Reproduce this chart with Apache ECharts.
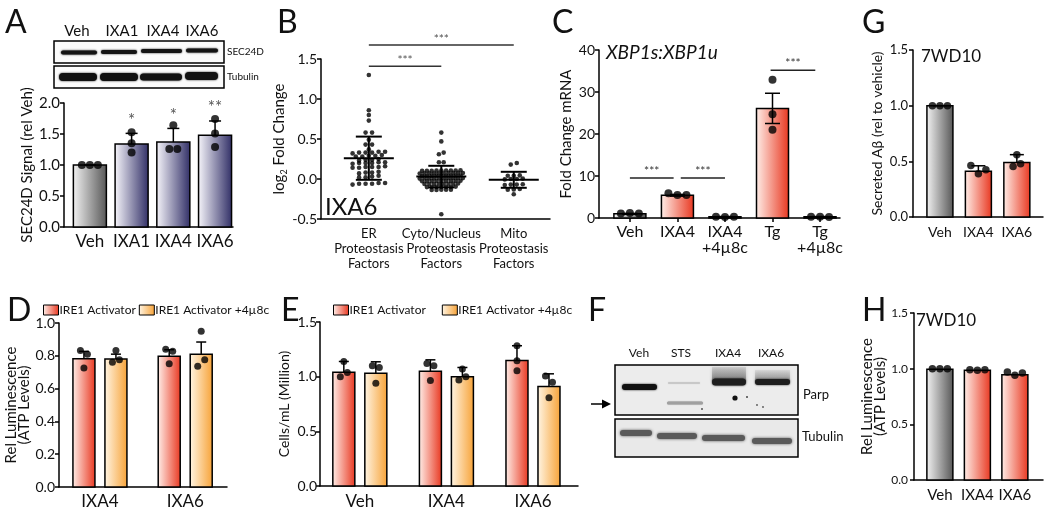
<!DOCTYPE html>
<html><head><meta charset="utf-8">
<script src="https://cdn.jsdelivr.net/npm/echarts@6/dist/echarts.min.js"></script>
<style>html,body{margin:0;padding:0;background:#fff}#c{width:1050px;height:514px}</style>
</head><body><div id="c"></div>
<script>
// ---------------- DATA ----------------
// Panel A
const catsA = ['Veh','IXA1','IXA4','IXA6'];
const meanA = [1.00, 1.34, 1.37, 1.48];
const sdTopA = [1.00, 1.51, 1.59, 1.71];
const ptsA = [[1.0,1.0,1.0],[1.53,1.35,1.20],[1.26,1.64,1.26],[1.74,1.51,1.29]];
const starsA = ['','*','*','**'];
const laneA = ['Veh','IXA1','IXA4','IXA6'];
// Panel B
const catsB = ['ER\nProteostasis\nFactors','Cyto/Nucleus\nProteostasis\nFactors','Mito\nProteostasis\nFactors'];
const erVals = [1.30,0.86,0.80,0.73,0.58,0.58,0.49,0.43,0.43,0.37,
  0.34,0.34,0.33,0.33,0.33,0.32, 0.30,0.29,0.29,0.28,0.28, 0.25,0.24,0.24,0.23,
  0.21,0.21,0.20,0.20,0.20,0.19, 0.16,0.15,0.15,0.15,0.14,0.14, 0.09,0.08,0.08,0.07,
  0.04,0.03,0.02,0.02, -0.05,-0.05,-0.06,-0.06,-0.06,-0.07];
const cytoVals = [0.58,0.47,0.33,0.31,0.21,0.21,
  0.108,0.106,0.105,0.104,0.103,0.107,0.105,0.102,0.106,
  0.074,0.073,0.072,0.071,0.070,0.075,0.073,0.069,0.071,0.072,
  0.042,0.041,0.040,0.039,0.038,0.043,0.040,0.037,0.041,
  0.010,0.009,0.008,0.007,0.006,0.011,0.008,0.005,0.009,0.007,
  -0.023,-0.024,-0.025,-0.026,-0.027,-0.022,-0.025,-0.028,-0.024,
  -0.058,-0.059,-0.060,-0.061,-0.062,-0.057,-0.060,-0.063,
  -0.096,-0.097,-0.098,-0.099,-0.100,-0.095,-0.101,
  -0.133,-0.134,-0.135,-0.136,-0.137, -0.44];
const mitoVals = [0.20,0.18, 0.045,0.040,0.040, 0.005,0.0,0.0,-0.005,
  -0.065,-0.07,-0.07,-0.075, -0.125,-0.13,-0.135, -0.19];
const meanB = [0.26, 0.03, -0.01];
const sdB = [0.27, 0.135, 0.10];
const sigB = [[0,1,1.41],[0,2,1.675]];
const sigBLabels = ['***','***'];
// Panel C
const catsC = ['Veh','IXA4','IXA4\n+4µ8c','Tg','Tg\n+4µ8c'];
const meanC = [1.0, 5.4, 0.3, 26.1, 0.3];
const semTopC = [1.1, 5.6, 0.35, 29.7, 0.35];
const semBotC = [0.9, 5.2, 0.25, 22.5, 0.25];
const ptsC = [[1.1,1.2,1.1],[5.9,5.5,5.5],[0.3,0.25,0.3],[32.9,24.7,21.0],[0.3,0.3,0.25]];
const sigC = [[0,0.92,9.5],[1.07,2,9.5],[2.96,3.9,35.2]];
const sigCLabels = ['***','***','***'];
// Panel G
const catsG = ['Veh','IXA4','IXA6'];
const meanG = [1.0, 0.41, 0.49];
const sdTopG = [1.0, 0.46, 0.56];
const ptsG = [[1.0,1.0,1.0],[0.463,0.388,0.424],[0.454,0.559,0.478]];
// Panel D
const catsD = ['IXA4','IXA6'];
const meanDAct = [0.782, 0.797], sdDAct = [0.827, 0.837];
const meanDInh = [0.780, 0.810], sdDInh = [0.810, 0.884];
const ptsDAct = [[0.833,0.726,0.810],[0.840,0.752,0.827]];
const ptsDInh = [[0.760,0.833,0.776],[0.736,0.949,0.776]];
// Panel E
const catsE = ['Veh','IXA4','IXA6'];
const meanEAct = [1.041, 1.050, 1.148], sdEAct = [1.139, 1.154, 1.283];
const meanEInh = [1.031, 1.000, 0.909], sdEInh = [1.136, 1.084, 1.026];
const ptsEAct = [[1.000,1.139,1.038],[1.120,0.964,1.100],[1.053,1.283,1.145]];
const ptsEInh = [[1.099,0.940,1.084],[0.970,1.070,1.000],[1.007,0.808,0.950]];
// Panel H
const catsH = ['Veh','IXA4','IXA6'];
const meanH = [0.995, 0.985, 0.945];
const ptsH = [[1.0,1.0,1.0],[0.99,0.985,0.99],[0.97,0.94,0.96]];
// Panel F
const laneF = ['Veh','STS','IXA4','IXA6'];
const legendNames = ['IRE1 Activator','IRE1 Activator +4µ8c'];

// ---------------- LAYOUT ----------------
const F = 'Lato, "Open Sans", sans-serif';
const chart = echarts.init(document.getElementById('c'));
const lg = (c0,c1)=> new echarts.graphic.LinearGradient(0,0,1,0,[{offset:0,color:c0},{offset:1,color:c1}]);
const GRAY = lg('#f4f4f4','#555555'), NAVY = lg('#f8f7fc','#302e66'),
      RED = lg('#fff0ea','#e8361f'), ORNG = lg('#fff6e6','#f7a236');

const panels = [
 {g:{left:64,top:103,width:169,height:124}, xr:[-0.62,3.43], cats:catsA, y:[0,2,0.5], name:'SEC24D Signal (rel Veh)', nameGap:26, nfs:15, tfs:15, xfs:17, dec:1, tm:4, xm:5},
 {g:{left:321,top:59,width:229,height:160}, xr:[-0.66,2.5], cats:catsB, y:[-0.5,1.5,0.5], name:'{t|log}{s|2}{t| Fold Change}', nameGap:24, nfs:15, tfs:14, xfs:13, xlh:15, noXLabel:true, dec:1, tm:4, xm:7,
   rich:{t:{fontSize:15,fontFamily:F,color:'#111',lineHeight:18},s:{fontSize:9,fontFamily:F,color:'#111',lineHeight:18,verticalAlign:'bottom'}}},
 {g:{left:599,top:50,width:241,height:168}, xr:[-0.65,4.42], cats:catsC, y:[0,40,10], name:'Fold Change mRNA', nameGap:24, nfs:15, tfs:14, xfs:16, xlh:16, dec:0, tm:4, xm:6, xtick:true},
 {g:{left:913,top:50,width:130,height:167}, xr:[-0.7,2.68], cats:catsG, y:[0,1.5,0.5], name:'Secreted Aβ (rel to vehicle)', nameGap:27, nfs:14, tfs:13, xfs:14, dec:1, tm:5, xm:7},
 {g:{left:59,top:323,width:168,height:164}, xr:[-0.48,1.49], cats:catsD, y:[0,1,0.2], name:'Rel Luminescence\n(ATP Levels)', nameGap:26, nfs:15, nlh:13, tfs:14, xfs:17, dec:1, tm:4, xm:5},
 {g:{left:320,top:322,width:258,height:164}, xr:[-0.46,2.52], cats:catsE, y:[0,1.5,0.5], name:'Cells/mL (Million)', nameGap:28, nfs:14, tfs:14, xfs:17, dec:1, tm:3, xm:6},
 {g:{left:914,top:313,width:129,height:167}, xr:[-0.69,2.75], cats:catsH, y:[0,1.5,0.5], name:'Rel Luminescence\n(ATP Levels)', nameGap:25, nfs:15, nlh:13, tfs:12, xfs:15, dec:1, tm:6, xm:7}
];
const ppu = panels.map(p=>p.g.height/(p.y[1]-p.y[0]));

const grids=[], xAxes=[], yAxes=[];
panels.forEach((p,i)=>{
  grids.push(Object.assign({containLabel:false}, p.g));
  const cv = p.cats.map((c,k)=>k);
  const lab = {show:!p.noXLabel, customValues:cv, showMinLabel:true, showMaxLabel:true, hideOverlap:false,
      formatter:v=>p.cats[Math.round(v)], fontSize:p.xfs, fontFamily:F, color:'#111', margin:p.xm, lineHeight:p.xlh||p.xfs+2};
  xAxes.push({gridIndex:i, type:'value', min:p.xr[0], max:p.xr[1],
    axisLine:{show:true,onZero:false,lineStyle:{color:'#000',width:1.5}},
    axisTick:{show:!!p.xtick, customValues:cv, length:4, lineStyle:{color:'#000',width:1.5}},
    splitLine:{show:false}, axisLabel:lab});
  yAxes.push({gridIndex:i, type:'value', min:p.y[0], max:p.y[1], interval:p.y[2],
    name:p.name, nameLocation:'middle', nameGap:p.nameGap, nameRotate:90,
    nameTextStyle:{fontSize:p.nfs, fontFamily:F, color:'#111', lineHeight:p.nlh||p.nfs+2, rich:p.rich},
    axisLine:{show:true,onZero:false,lineStyle:{color:'#000',width:1.5}},
    axisTick:{show:true,length:4,lineStyle:{color:'#000',width:1.5}},
    splitLine:{show:false},
    axisLabel:{fontSize:p.tfs, fontFamily:F, color:'#111', margin:p.tm, showMinLabel:true, showMaxLabel:true, formatter:v=>v.toFixed(p.dec)}});
});

// swarm helpers (layout computed from values)
function swarm(vals, scale, d){
  const n=vals.length, idx=vals.map((v,i)=>i).sort((a,b)=>vals[a]-vals[b]);
  const groups=[]; let cur=[idx[0]];
  for(let k=1;k<n;k++){ if((vals[idx[k]]-vals[idx[k-1]])*scale<d) cur.push(idx[k]); else {groups.push(cur); cur=[idx[k]];} }
  groups.push(cur);
  const off=new Array(n).fill(0);
  groups.forEach(g=>{ g.sort((a,b)=>a-b); g.forEach((id,j)=>off[id]=(j-(g.length-1)/2)*d); });
  return off;
}
function rowSwarm(vals, scale, rowH, sp){
  const idx=vals.map((v,i)=>i).sort((a,b)=>vals[a]-vals[b]);
  const rows=[]; let cur=[idx[0]], start=vals[idx[0]];
  for(let k=1;k<idx.length;k++){ const v=vals[idx[k]]; if((v-start)*scale>rowH){rows.push(cur);cur=[idx[k]];start=v;} else cur.push(idx[k]); }
  rows.push(cur);
  const off=new Array(vals.length).fill(0);
  rows.forEach(r=>r.forEach((id,j)=>off[id]=(j-(r.length-1)/2)*sp));
  return off;
}

const series=[];
function addBars(gi, vals, fills, w, off, name, legColor){
  const s={type:'custom', xAxisIndex:gi, yAxisIndex:gi, clip:false, z:2, silent:true,
    data: vals.map((v,k)=>[k,v]), encode:{x:0,y:1},
    renderItem:(params, api)=>{ const k=params.dataIndex, x=api.value(0), v=api.value(1);
      const p0=api.coord([x,0]), p1=api.coord([x,v]), cx=p0[0]+off;
      return {type:'rect', shape:{x:cx-w/2, y:p1[1], width:w, height:Math.max(p0[1]-p1[1],0.8)},
        style:{fill:fills[k], stroke:'#000', lineWidth:1.5}}; }};
  if(name){ s.name=name; s.itemStyle={color:legColor}; }
  series.push(s);
}
function addErr(gi, vals, tops, bots, cap, off){
  series.push({type:'custom', xAxisIndex:gi, yAxisIndex:gi, clip:false, z:3, silent:true,
    data: vals.map((v,k)=>[k,v,tops[k],bots?bots[k]:v]), encode:{x:0,y:[1,2,3]},
    renderItem:(params, api)=>{ const x=api.value(0);
      const pt=api.coord([x,api.value(2)]), pb=api.coord([x,api.value(3)]);
      const cx=pt[0]+off, st={stroke:'#000',lineWidth:1.5};
      const ch=[{type:'line',shape:{x1:cx,y1:pb[1],x2:cx,y2:pt[1]},style:st},
                {type:'line',shape:{x1:cx-cap/2,y1:pt[1],x2:cx+cap/2,y2:pt[1]},style:st}];
      if(bots) ch.push({type:'line',shape:{x1:cx-cap/2,y1:pb[1],x2:cx+cap/2,y2:pb[1]},style:st});
      return {type:'group',children:ch}; }});
}
function addDots(gi, pts, d, off, size){
  const data=[];
  pts.forEach((arr,k)=>{ const o=swarm(arr, ppu[gi], d); arr.forEach((v,j)=>data.push({value:[k,v],symbolOffset:[off+o[j],0]})); });
  series.push({type:'scatter', xAxisIndex:gi, yAxisIndex:gi, symbol:'circle', symbolSize:size, itemStyle:{color:'#000'}, z:4, silent:true, clip:false, data});
}
function addSig(gi, rows, labels, lineColor, txtColor, fs, gap){
  series.push({type:'custom', xAxisIndex:gi, yAxisIndex:gi, clip:false, z:3, silent:true,
    data: rows.map(r=>r.slice()), encode:{x:[0,1],y:2},
    renderItem:(params, api)=>{ const k=params.dataIndex;
      const a=api.coord([api.value(0),api.value(2)]), b=api.coord([api.value(1),api.value(2)]);
      return {type:'group',children:[
        {type:'line',shape:{x1:a[0],y1:a[1],x2:b[0],y2:b[1]},style:{stroke:lineColor,lineWidth:1.5}},
        {type:'text',style:{text:labels[k],x:(a[0]+b[0])/2,y:a[1]-gap,align:'center',verticalAlign:'middle',fontSize:fs,fontFamily:F,fill:txtColor}}]}; }});
}

// Panel A (grid 0)
addBars(0, meanA, [GRAY,NAVY,NAVY,NAVY], 33, 0);
addErr(0, meanA, sdTopA, null, 12, 0);
addDots(0, ptsA, 8, 0, 8);
series.push({type:'custom', xAxisIndex:0, yAxisIndex:0, clip:false, z:3, silent:true,
  data: sdTopA.map((v,k)=>[k,v]), encode:{x:0,y:1},
  renderItem:(params, api)=>{ const k=params.dataIndex, p=api.coord([api.value(0),api.value(1)]);
    return {type:'text',style:{text:starsA[k],x:p[0],y:p[1]-13,align:'center',verticalAlign:'middle',fontSize:17,fontFamily:F,fill:'#555'}}; }});

// Panel B (grid 1)
(function(){
  const groups=[erVals,cytoVals,mitoVals], sps=[6.5,4.8,6];
  const data=[];
  groups.forEach((g,k)=>{ const o=rowSwarm(g, ppu[1], 2.0, sps[k]); g.forEach((v,j)=>data.push({value:[k,v],symbolOffset:[o[j],0]})); });
  series.push({type:'scatter', xAxisIndex:1, yAxisIndex:1, symbol:'circle', symbolSize:4.6, itemStyle:{color:'#000'}, z:4, silent:true, data});
  series.push({type:'custom', xAxisIndex:1, yAxisIndex:1, clip:false, z:5, silent:true,
    data: meanB.map((m,k)=>[k,m,m+sdB[k],m-sdB[k]]), encode:{x:0,y:[1,2,3]},
    renderItem:(params, api)=>{ const x=api.value(0);
      const pm=api.coord([x,api.value(1)]), pt=api.coord([x,api.value(2)]), pb=api.coord([x,api.value(3)]);
      const st={stroke:'#000',lineWidth:2}, cx=pm[0];
      return {type:'group',children:[
        {type:'line',shape:{x1:cx-25,y1:pm[1],x2:cx+25,y2:pm[1]},style:st},
        {type:'line',shape:{x1:cx,y1:pt[1],x2:cx,y2:pb[1]},style:st},
        {type:'line',shape:{x1:cx-13,y1:pt[1],x2:cx+13,y2:pt[1]},style:st},
        {type:'line',shape:{x1:cx-13,y1:pb[1],x2:cx+13,y2:pb[1]},style:st}]}; }});
  addSig(1, sigB, sigBLabels, '#333', '#555', 12, 6);
  // category labels under the B axis (placed through the axis scale)
  series.push({type:'custom', xAxisIndex:1, yAxisIndex:1, clip:false, z:5, silent:true,
    data: catsB.map((c,k)=>[k,-0.5]), encode:{x:0,y:1},
    renderItem:(params, api)=>{ const k=params.dataIndex, p=api.coord([api.value(0),api.value(1)]);
      return {type:'text',style:{text:catsB[k],x:p[0],y:p[1]+7,align:'center',verticalAlign:'top',fontSize:13,lineHeight:15,fontFamily:F,fill:'#111'}}; }});
})();

// Panel C (grid 2)
addBars(2, meanC, [GRAY,RED,RED,RED,RED], 32, 0);
addErr(2, meanC, semTopC, semBotC, 15, 0);
addDots(2, ptsC, 9, 0, 8);
addSig(2, sigC, sigCLabels, '#222', '#333', 12, 7);

// Panel G (grid 3)
addBars(3, meanG, [GRAY,RED,RED], 26, 0);
addErr(3, meanG, sdTopG, null, 14, 0);
addDots(3, ptsG, 7.5, 0, 7.5);

// Panel D (grid 4)
addBars(4, meanDAct, [RED,RED], 22, -16, legendNames[0], RED);
addBars(4, meanDInh, [ORNG,ORNG], 22, 16, legendNames[1], ORNG);
addErr(4, meanDAct, sdDAct, null, 10, -16);
addErr(4, meanDInh, sdDInh, null, 10, 16);
addDots(4, ptsDAct, 7, -16, 7);
addDots(4, ptsDInh, 7, 16, 7);

// Panel E (grid 5)
addBars(5, meanEAct, [RED,RED,RED], 22, -16, legendNames[0], RED);
addBars(5, meanEInh, [ORNG,ORNG,ORNG], 22, 16, legendNames[1], ORNG);
addErr(5, meanEAct, sdEAct, null, 10, -16);
addErr(5, meanEInh, sdEInh, null, 10, 16);
addDots(5, ptsEAct, 7, -16, 7);
addDots(5, ptsEInh, 7, 16, 7);

// Panel H (grid 6)
addBars(6, meanH, [GRAY,RED,RED], 26, 0);
addDots(6, ptsH, 7.5, 0, 7.5);

// ---------------- GRAPHICS (letters, blots, annotations) ----------------
const T=(text,x,y,fs,o={})=>({type:'text',silent:true,style:{text,x,y,fontSize:fs,fontFamily:F,fontStyle:o.italic?'italic':'normal',fill:o.fill||'#111',align:o.align||'left',verticalAlign:'middle'}});
const box=(x,y,w,h,fill)=>({type:'rect',silent:true,shape:{x,y,width:w,height:h},style:{fill,stroke:'#000',lineWidth:1.5}});
const band=(x1,x2,yc,h,fill,blur)=>({type:'rect',silent:true,shape:{x:x1,y:yc-h/2,width:x2-x1,height:h,r:h/2},style:{fill,shadowBlur:blur==null?2:blur,shadowColor:fill}});
const els=[];
[['A',5,23],['B',277,23],['C',552,23],['G',862,23],['D',7,311],['E',281,311],['F',588,311],['H',862,311]]
  .forEach(l=>els.push(T(l[0],l[1],l[2],32)));
// A blot
[77,122,163,202].forEach((x,k)=>els.push(T(laneA[k],x,31,15,{align:'center'})));
els.push(box(54,41,170,22,'#fbfbfb'), box(54,66,170,22,'#fbfbfb'));
[[61,97,52.5,4],[101,137,52,4],[141,182,51,4],[186,218,50.5,4]].forEach(b=>els.push(band(b[0],b[1],b[2],b[3],'#141414')));
[[59,97,77,8],[100,138,77,8],[140,182,77,7],[185,218,76,8]].forEach(b=>els.push(band(b[0],b[1],b[2],b[3],'#111')));
els.push(T('SEC24D',227,52,10), T('Tubulin',227,77,10));
// text annotations
els.push(T('IXA6',325,207,24));
els.push(T('XBP1s:XBP1u',606,53,19,{italic:true}));
els.push(T('7WD10',921,57,17), T('7WD10',916,321,17));
// F blot
[639,681,728,771].forEach((x,k)=>els.push(T(laneF[k],x,353,12,{align:'center'})));
els.push(box(615,365,183,50,'#ececec'), box(615,419,183,38,'#e9e9e9'));
els.push({type:'rect',silent:true,shape:{x:712,y:367,width:34,height:14},style:{fill:new echarts.graphic.LinearGradient(0,0,0,1,[{offset:0,color:'rgba(150,150,150,0.25)'},{offset:1,color:'rgba(110,110,110,0.8)'}]),shadowBlur:3,shadowColor:'#999'}});
els.push({type:'rect',silent:true,shape:{x:755,y:370,width:35,height:11},style:{fill:new echarts.graphic.LinearGradient(0,0,0,1,[{offset:0,color:'rgba(160,160,160,0.2)'},{offset:1,color:'rgba(120,120,120,0.7)'}]),shadowBlur:3,shadowColor:'#aaa'}});
els.push(band(622,657,387,6,'#111'), band(712,746,382,7,'#1e1e1e'), band(755,790,382,6,'#1e1e1e'));
els.push(band(668,700,383,2,'#c8c8c8',1), band(667,703,403,3,'#a0a0a0',1));
[[735,398,2.6,'#111'],[747,397,1,'#444'],[757,405,0.9,'#555'],[763,407,0.9,'#555'],[702,409,1,'#555']]
  .forEach(c=>els.push({type:'circle',silent:true,shape:{cx:c[0],cy:c[1],r:c[2]},style:{fill:c[3]}}));
[[620,652,433,6],[657,697,436,6],[702,745,438,6],[752,792,441,6]].forEach(b=>els.push(band(b[0],b[1],b[2],b[3],'#5a5a5a',3)));
els.push(T('Parp',803,395,13), T('Tubulin',802,437,13));
els.push({type:'line',silent:true,shape:{x1:591,y1:404,x2:604,y2:404},style:{stroke:'#000',lineWidth:1.5}});
els.push({type:'polygon',silent:true,shape:{points:[[611,404],[602,399.5],[602,408.5]]},style:{fill:'#000'}});

const legBase={orient:'horizontal',icon:'rect',itemWidth:15,itemHeight:10,padding:0,selectedMode:false,data:legendNames,top:304,
  itemStyle:{borderColor:'#000',borderWidth:1},textStyle:{fontSize:12,fontFamily:F,color:'#111',padding:[0,0,0,-4]}};
const legends=[Object.assign({},legBase,{left:43,itemGap:3}), Object.assign({},legBase,{left:333,itemGap:16})];

chart.setOption({
  animation:false,
  backgroundColor:'#fff',
  textStyle:{fontFamily:F},
  grid:grids, xAxis:xAxes, yAxis:yAxes, series, legend:legends,
  graphic:{elements:els}
});
</script></body></html>
